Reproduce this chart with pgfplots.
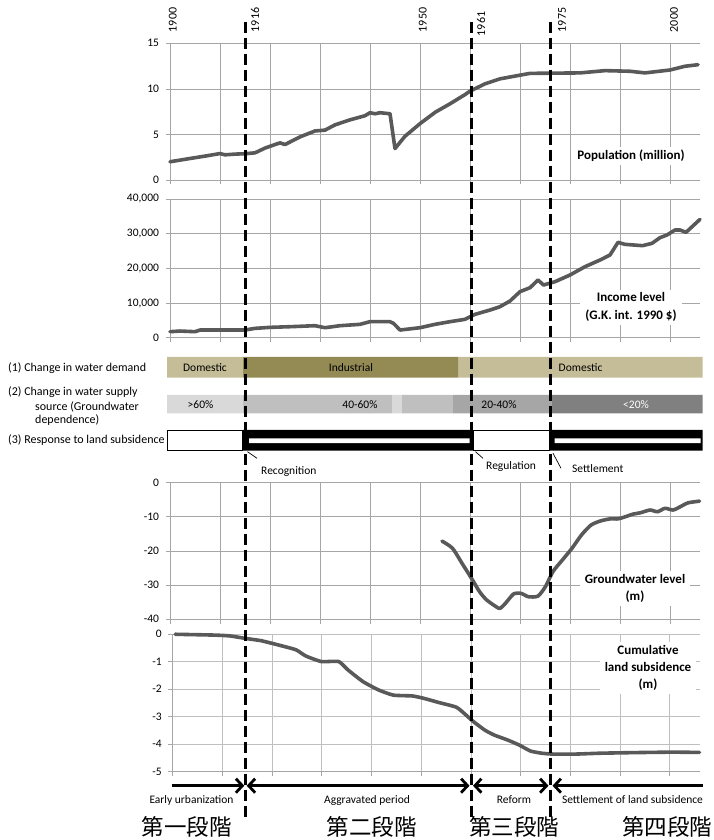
\documentclass[border=0pt]{standalone}
\usepackage{pgfplots}
\pgfplotsset{compat=1.18}
\usepackage{fontspec}
\setmainfont{Carlito}
\newfontfamily\jpfont{Noto Sans CJK JP}
\usetikzlibrary{arrows.meta}

\definecolor{gridgray}{HTML}{A6A6A6}
\definecolor{gridlight}{HTML}{BFBFBF}
\definecolor{linegray}{HTML}{595959}
\definecolor{tanlight}{HTML}{C4BD97}
\definecolor{tandark}{HTML}{948A54}
\definecolor{gA}{HTML}{D9D9D9}
\definecolor{gB}{HTML}{BFBFBF}
\definecolor{gC}{HTML}{A6A6A6}
\definecolor{gD}{HTML}{808080}

\newcommand\fs[1]{\fontsize{#1}{#1}\selectfont}

\pgfplotsset{
  panel/.style={
    scale only axis, width=530pt, xmin=1900, xmax=2006,
    axis x line*=bottom, axis y line*=left,
    xtick={1900,1910,...,2000}, xticklabels={},
    tick align=outside, major tick length=4.5pt,
    grid=major, grid style={gridgray,line width=0.7pt},
    axis line style={gridgray,line width=0.7pt},
    tick style={gridgray,line width=0.7pt},
    yticklabel style={font=\fs{11.5}, text=black, xshift=-3pt},
    clip=false, anchor=south west,
  },
  dataline/.style={linegray, line width=3.6pt, line join=round, line cap=round},
}
\tikzset{
  panellabel/.style={fill=white, font=\bfseries\fs{13}, align=center, inner xsep=5pt, inner ysep=3pt},
}

% rectangular band in the overlay axis: colour options, x1, x2, y1, y2
\newcommand\band[5]{\addplot[#1, forget plot] coordinates {(#2,#4) (#3,#4) (#3,#5) (#2,#5) (#2,#4)};}

\begin{document}
\begin{tikzpicture}
\path[use as bounding box] (0pt,0pt) rectangle (713pt,840pt);

% ---------------- Population ----------------
\begin{axis}[panel, at={(170pt,660pt)}, height=136.7pt,
  ymin=0, ymax=15, ytick={0,5,10,15}, yticklabels={0,5,10,15}]
\addplot[dataline] coordinates {
(1900,2.0) (1904,2.36) (1907,2.62) (1910,2.9) (1911,2.76) (1913,2.84)
(1915,2.88) (1917,2.98) (1919,3.5) (1921,3.89) (1922,4.07) (1923,3.89)
(1926,4.73) (1929,5.38) (1931,5.47) (1933,6.05) (1936,6.6) (1939,7.05)
(1940,7.38) (1941,7.27) (1942,7.38) (1944,7.27) (1945,3.45) (1947,4.8)
(1950,6.18) (1953,7.42) (1956,8.36) (1959,9.37) (1960,9.75) (1963,10.55)
(1966,11.1) (1969,11.4) (1972,11.7) (1976,11.72) (1982,11.75) (1987,12.0)
(1992,11.93) (1995,11.75) (2000,12.07) (2003,12.48) (2005.6,12.65)
};
\end{axis}

% ---------------- Income level ----------------
\begin{axis}[panel, at={(170pt,502.3pt)}, height=138.7pt,
  ymin=0, ymax=40000, ytick={0,10000,20000,30000,40000},
  yticklabels={0,{10,000},{20,000},{30,000},{40,000}}, scaled y ticks=false]
\addplot[dataline] coordinates {
(1900,1730) (1902,1920) (1905,1730) (1906,2210) (1915,2210) (1917,2690)
(1920,2980) (1924,3170) (1929,3460) (1931,2880) (1934,3460) (1938,3850)
(1940,4620) (1944,4620) (1944.7,4130) (1946,2210) (1950,2880) (1953,3850)
(1956,4620) (1959,5290) (1961,6730) (1964,7980) (1966,8940) (1968,10580)
(1970,13270) (1972,14420) (1973.6,16630) (1974.7,15190) (1977,16150)
(1980,18080) (1983,20480) (1986,22400) (1988,23850) (1989.6,27500)
(1991,26920) (1994.5,26540) (1996.4,27210) (1998,28850) (1999.4,29620)
(2001,31060) (2002,31060) (2003.2,30380) (2006,34130)
};
\end{axis}

% ---------------- Groundwater level ----------------
\begin{axis}[panel, at={(170pt,220.7pt)}, height=136.6pt,
  ymin=-40, ymax=0, ytick={-40,-30,-20,-10,0},
  yticklabels={-40,-30,-20,-10,0}]
\addplot[dataline, smooth, tension=0.4] coordinates {
(1954.4,-17.1) (1956.5,-19.2) (1958.4,-23.6) (1960.3,-28) (1961.9,-31.9)
(1963.3,-34.3) (1965.2,-36.3) (1966,-36.8) (1967.1,-35.3) (1968.7,-32.6)
(1970.2,-32.4) (1971.7,-33.4) (1973.6,-33.2) (1975.1,-30.4) (1976.6,-26)
(1978.5,-22.6) (1980.4,-19.2) (1982.3,-15.3) (1984.2,-12.4) (1986.1,-11.2)
(1988,-10.6) (1989.6,-10.6) (1991,-10) (1992.6,-9.2) (1994.1,-8.8)
(1996,-8) (1997.5,-8.5) (1999,-7.5) (2000.6,-8) (2002.1,-7) (2003.6,-5.9)
(2005.9,-5.4)
};
\end{axis}

% ---------------- Cumulative land subsidence ----------------
\begin{axis}[panel, at={(172.7pt,68.3pt)}, width=526.8pt, height=137.7pt,
  grid style={gridlight,line width=0.7pt},
  ymin=-5, ymax=0, ytick={-5,-4,-3,-2,-1,0},
  yticklabels={-5,-4,-3,-2,-1,0}]
\addplot[dataline, smooth, tension=0.3] coordinates {
(1900.5,-0.01) (1908.5,-0.04) (1911.5,-0.07) (1914.65,-0.16) (1917.7,-0.24)
(1920,-0.34) (1923,-0.48) (1924.9,-0.58) (1926.8,-0.8) (1929.9,-1.0)
(1933.4,-1.0) (1935.3,-1.31) (1938.3,-1.73) (1941.4,-2.03) (1944.4,-2.22)
(1948.25,-2.25) (1950.6,-2.34) (1953.6,-2.49) (1957.1,-2.66) (1959,-2.94)
(1960.5,-3.18) (1962.8,-3.49) (1964.7,-3.67) (1967.4,-3.85) (1969.7,-4.03)
(1972,-4.25) (1974.3,-4.33) (1976.5,-4.36) (1981.1,-4.36) (1985.8,-4.33)
(1991.8,-4.31) (2000.3,-4.29) (2006,-4.3)
};
\end{axis}

% ---------------- Overlay: bands, phase lines, arrows ----------------
\begin{axis}[at={(170pt,0pt)}, anchor=south west, scale only axis,
  width=530pt, height=840pt, xmin=1900, xmax=2006, ymin=0, ymax=840,
  hide axis, clip=false]

% panel captions
\node[panellabel] at (axis cs:1992.2,684) {Population (million)};
\node[panellabel, font=\bfseries\fontsize{13}{18}\selectfont] at (axis cs:1992.2,532.6) {Income level\\(G.K. int. 1990 \$)};
\node[panellabel, font=\bfseries\fontsize{13}{17}\selectfont] at (axis cs:1993,251.5) {Groundwater level\\(m)};
\node[panellabel, font=\bfseries\fontsize{13}{17}\selectfont] at (axis cs:1995.6,172) {Cumulative\\land subsidence\\(m)};

% (1) water demand
\band{fill=tanlight,draw=none}{1899.4}{1914.6}{462.3}{483}
\band{fill=tandark,draw=none}{1914.6}{1957.7}{462.3}{483}
\band{fill=tanlight,draw=none}{1957.7}{2006.5}{462.3}{483}
% (2) groundwater dependence
\band{fill=gA,draw=none}{1899.4}{1914.6}{426.7}{445}
\band{fill=gB,draw=none}{1914.6}{1944.4}{426.7}{445}
\band{fill=gA,draw=none}{1944.4}{1946.4}{426.7}{445}
\band{fill=gB,draw=none}{1946.4}{1956.6}{426.7}{445}
\band{fill=gC,draw=none}{1956.6}{1976.4}{426.7}{445}
\band{fill=gD,draw=none}{1976.4}{2006.5}{426.7}{445}
% (3) response to land subsidence
\band{fill=white,draw=black,line width=0.8pt}{1899.4}{1914.5}{389.7}{409.6}
\band{fill=black,draw=none}{1914.5}{1960.6}{389.3}{410}
\band{fill=white,draw=none}{1915.8}{1959.9}{396.8}{401.5}
\band{fill=white,draw=black,line width=0.8pt}{1960.6}{1975.9}{389.7}{409.6}
\band{fill=black,draw=none}{1975.9}{2006.5}{389.3}{410}
\band{fill=white,draw=none}{1976.9}{2006.1}{396.8}{401.5}

\node[font=\fs{11.5}] at (axis cs:1907,472.6) {Domestic};
\node[font=\fs{11.5}] at (axis cs:1936.2,472.6) {Industrial};
\node[font=\fs{11.5}, anchor=west, inner sep=0pt] at (axis cs:1977.7,472.6) {Domestic};
\node[font=\fs{11.5}] at (axis cs:1906.1,435.8) {>60\%};
\node[font=\fs{11.5}] at (axis cs:1938,435.8) {40-60\%};
\node[font=\fs{11.5}] at (axis cs:1965.8,435.8) {20-40\%};
\node[font=\fs{11.5}, text=white] at (axis cs:1993.2,435.8) {<20\%};

% leader lines and event names
\addplot[black, line width=0.7pt] coordinates {(1915.5,388.3) (1917.4,381.7)};
\addplot[black, line width=0.7pt] coordinates {(1961.1,388.3) (1962.6,381.7)};
\addplot[black, line width=0.7pt] coordinates {(1976.6,386.7) (1978.2,371.7)};
\node[font=\fs{11.5}, anchor=west, inner sep=0pt] at (axis cs:1918.2,368.3) {Recognition};
\node[font=\fs{11.5}, anchor=west, inner sep=0pt] at (axis cs:1963.2,373) {Regulation};
\node[font=\fs{11.5}, anchor=west, inner sep=0pt] at (axis cs:1980.4,371) {Settlement};

% phase boundaries
\addplot[black, line width=3.2pt, dash pattern=on 11.5pt off 4.5pt] coordinates {(1915.14,818.3) (1915.14,23.3)};
\addplot[black, line width=3.2pt, dash pattern=on 11.5pt off 4.5pt] coordinates {(1960.34,818.3) (1960.34,23.3)};
\addplot[black, line width=3.2pt, dash pattern=on 11.5pt off 4.5pt] coordinates {(1976.14,818.3) (1976.14,23.3)};

% phase arrows
\addplot[black, line width=2.8pt, -{Straight Barb[length=6.5pt,width=14pt]}] coordinates {(1900.34,54.3) (1914.86,54.3)};
\addplot[black, line width=2.8pt, {Straight Barb[length=6.5pt,width=14pt]}-{Straight Barb[length=6.5pt,width=14pt]}] coordinates {(1915.34,54.3) (1959.9,54.3)};
\addplot[black, line width=2.8pt, {Straight Barb[length=6.5pt,width=14pt]}-{Straight Barb[length=6.5pt,width=14pt]}] coordinates {(1960.6,54.3) (1975.7,54.3)};
\addplot[black, line width=2.8pt, {Straight Barb[length=6.5pt,width=14pt]}-] coordinates {(1976.5,54.3) (2006.6,54.3)};

\node[font=\fs{11.5}] at (axis cs:1904.3,40) {Early urbanization};
\node[font=\fs{11.5}] at (axis cs:1939.4,40) {Aggravated period};
\node[font=\fs{11.5}] at (axis cs:1968.8,40) {Reform};
\node[font=\fs{11.5}] at (axis cs:1992.5,40) {Settlement of land subsidence};

\node[font=\jpfont\fs{22.5}] at (axis cs:1903.3,13.3) {第一段階};
\node[font=\jpfont\fs{22.5}] at (axis cs:1940.3,13.3) {第二段階};
\node[font=\jpfont\fs{22.5}] at (axis cs:1968.8,13.3) {第三段階};
\node[font=\jpfont\fs{22.5}] at (axis cs:1999.4,13.3) {第四段階};
\end{axis}

% year markers along the top
\foreach \xp/\yr/\yp in {172.7/1900/820, 255/1916/820, 422.7/1950/820, 481/1961/816, 562/1975/820, 674/2000/820}
  \node[rotate=90, font=\fs{12}] at (\xp pt,\yp pt) {\yr};

% row captions
\node[anchor=west, inner sep=0pt, font=\fs{12}] at (8pt,472pt) {(1) Change in water demand};
\node[anchor=west, inner sep=0pt, font=\fs{12}] at (8pt,448.3pt) {(2) Change in water supply};
\node[anchor=west, inner sep=0pt, font=\fs{12}] at (35pt,433.3pt) {source (Groundwater};
\node[anchor=west, inner sep=0pt, font=\fs{12}] at (35pt,420pt) {dependence)};
\node[anchor=west, inner sep=0pt, font=\fs{12}] at (8pt,400pt) {(3) Response to land subsidence};
\end{tikzpicture}
\end{document}
